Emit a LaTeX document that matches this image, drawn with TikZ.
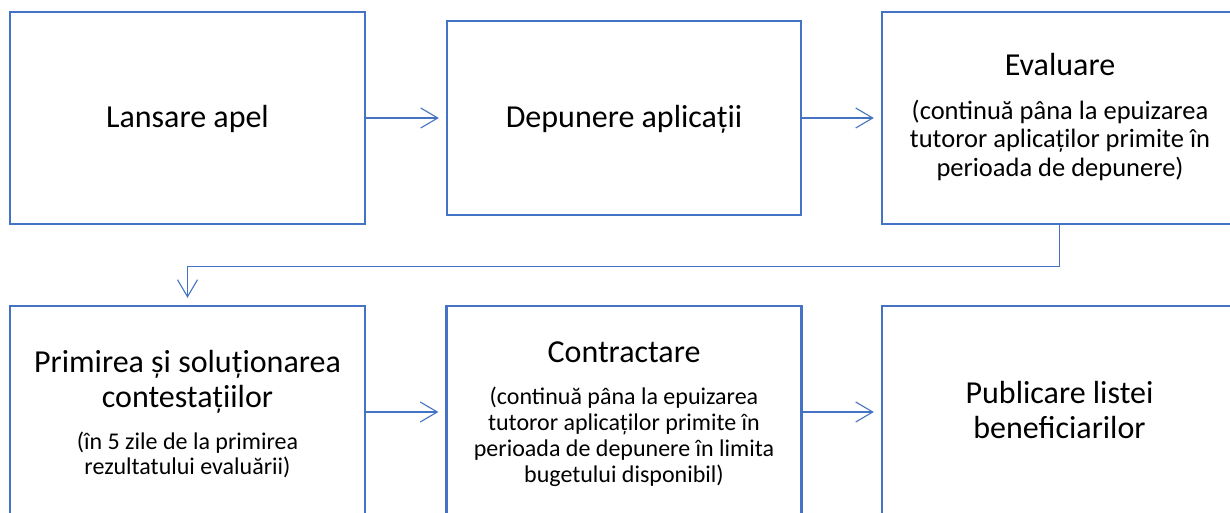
\documentclass[tikz,border=0pt]{standalone}
\usepackage{fontspec}
\setmainfont{Carlito}
\usetikzlibrary{arrows.meta}
\definecolor{obl}{HTML}{4472C4}
\begin{document}
\begin{tikzpicture}[x=1pt,y=-1pt,
  box/.style={draw=obl,line width=2.4pt,minimum width=355pt,minimum height=212pt,inner sep=0pt},
  conn/.style={draw=obl,line width=1.1pt,-{Straight Barb[length=17pt,width=20pt,line width=1.1pt]},shorten >=7pt},
  main/.style={font=\fontsize{32}{35}\selectfont,align=center,anchor=base,inner sep=0pt},
  subA/.style={font=\fontsize{26.5}{28.5}\selectfont,align=center,anchor=base,inner sep=0pt},
  subB/.style={font=\fontsize{24}{26}\selectfont,align=center,anchor=base,inner sep=0pt},
  subC/.style={font=\fontsize{24}{25}\selectfont,align=center,anchor=base,inner sep=0pt}]
\useasboundingbox (0,0) rectangle (1230,513);
\clip (0,0) rectangle (1230,513);
\fill[white] (0,0) rectangle (1230,513);
% boxes
\node[box] (b1) at (187.5,118) {};
\node[box,minimum width=354pt,minimum height=194pt] (b2) at (624,118) {};
\node[box] (b3) at (1059.5,118) {};
\node[box] (b4) at (187.5,412) {};
\node[box] (b5) at (624,412) {};
\node[box] (b6) at (1059.5,412) {};
% texts (anchor base = baseline of the last line)
\node[main] (t1) at (187.5,128) {Lansare apel};
\node[main] (t2) at (624,128) {Depunere aplicații};
\node[main] (t3) at (1060,76) {Evaluare};
\node[subA] (s3) at (1060,176) {(continuă pâna la epuizarea\\tutoror aplicaților primite în\\perioada de depunere)};
\node[main] (t4) at (187.5,407) {Primirea și soluționarea\\contestațiilor};
\node[subC] (s4) at (187.5,474) {(în 5 zile de la primirea\\rezultatului evaluării)};
\node[main] (t5) at (624,362) {Contractare};
\node[subB] (s5) at (624,482) {(continuă pâna la epuizarea\\tutoror aplicaților primite în\\perioada de depunere în limita\\bugetului disponibil)};
\node[main] (t6) at (1059.5,438) {Publicare listei\\beneficiarilor};
% connectors
\draw[conn] (b1) -- (b2);
\draw[conn] (b2) -- (b3);
\draw[conn] (b3.south) -- ++(0,41) -| (b4.north);
\draw[conn] (b4) -- (b5);
\draw[conn] (b5) -- (b6);
\end{tikzpicture}
\end{document}
